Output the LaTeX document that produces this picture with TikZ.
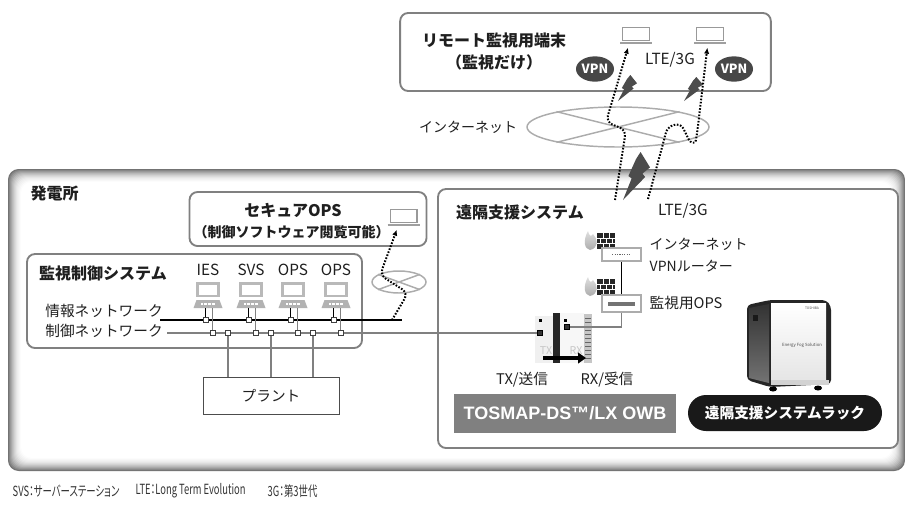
\documentclass[tikz,border=0pt]{standalone}
\usepackage{fontspec}
\setmainfont{Noto Sans CJK JP}
\newfontfamily\notefont[FakeStretch=0.67,RawFeature=+palt]{Noto Sans CJK JP}
\newfontfamily\logofont{Liberation Sans}
\usetikzlibrary{arrows.meta,shapes.geometric}

\definecolor{framegray}{gray}{0.5}
\definecolor{wiregray}{gray}{0.5}
\definecolor{inkgray}{gray}{0.12}

\tikzset{
  panel/.style={draw=framegray, line width=1.4pt, rounded corners=6pt, fill=white},
  boxtitle/.style={font=\bfseries\fontsize{12}{17}\selectfont, text=inkgray},
  caption/.style={font=\fontsize{11}{16}\selectfont, text=inkgray},
  tag/.style={font=\fontsize{11.5}{14}\selectfont, text=inkgray},
  note/.style={font=\notefont\fontsize{10.5}{12}\selectfont, text=black!80, anchor=west},
  laptop/.style={draw=gray!80, line width=1pt, fill=white, minimum width=20pt,
    minimum height=9.5pt, inner sep=0pt,
    append after command={([yshift=-1.5pt]\tikzlastnode.south west)
      edge[gray!75, line width=1.8pt, shorten <=-1.5pt, shorten >=-1.5pt]
      ([yshift=-1.5pt]\tikzlastnode.south east)}},
  pcscreen/.style={draw=gray!55, line width=2pt, fill=white, minimum width=15.5pt,
    minimum height=9.5pt, inner sep=0pt},
  jack/.style={draw=black!75, fill=white, line width=.5pt, minimum size=3.6pt, inner sep=0pt},
  infoline/.style={black, line width=1.1pt},
  ctrlline/.style={wiregray, line width=1.1pt},
  netring/.style={ellipse, draw=gray!65, line width=1.1pt, inner sep=0pt},
  wireless/.style={line width=1.5pt, dash pattern=on 1.2pt off 1.2pt, rounded corners=5pt,
    -{Latex[length=4.5pt,width=4pt]}},
  vpn/.style={ellipse, fill=black!72, text=white, font=\bfseries\fontsize{9.5}{10}\selectfont,
    minimum width=28.5pt, minimum height=19pt, inner sep=0pt},
  devbox/.style={draw=gray!65, line width=1.3pt, fill=white, minimum width=29pt, inner sep=0pt},
  bolt/.pic={\fill[black!70] (0.65,0) -- (1,0.32) -- (0.72,0.45) -- (0.82,0.52) -- (0,1)
    -- (0.32,0.55) -- (0.2,0.5) -- (0.48,0.15) -- cycle;},
  keyboard/.pic={\fill[gray!60] (-11.5,0) -- (11.5,0) -- (14.5,8) -- (-14.5,8) -- cycle;
    \draw[white, line width=1pt, dash pattern=on .5pt off .5pt] (-7,4) -- (7,4);},
  firewall/.pic={
    \shade[top color=gray!25, bottom color=gray!65] (6,22) .. controls (0,21) and (-1,12) .. (4,3)
      .. controls (5,8) and (7,9) .. (9,6) .. controls (14,11) and (15,20) .. (6,22) -- cycle;
    \fill[black!85] (13,5) rectangle (31,21);
    \draw[white, line width=.6pt] (13,10.3) -- (31,10.3) (13,15.6) -- (31,15.6)
      (19,5) -- (19,10.3) (25,5) -- (25,10.3) (16,10.3) -- (16,15.6) (22,10.3) -- (22,15.6)
      (28,10.3) -- (28,15.6) (19,15.6) -- (19,21) (25,15.6) -- (25,21);}
}

\begin{document}
\begin{tikzpicture}[x=0.75pt, y=-0.75pt]
\useasboundingbox (0,0) rectangle (905,507);

% power station frame, shaded inwards
\foreach \i/\tone in {0/55,1/47,2/40,3/34,4/28,5/23,6/18,7/14,8/10,9/7,10/5,11/3,12/1,13/0}{
  \fill[black!\tone, rounded corners=8pt] (8+\i,169+\i) rectangle (905-\i,471-\i);
}
\node[boxtitle, anchor=west] (station) at (26,193) {発電所};

% panels
\node[panel, minimum width=278pt, minimum height=58.5pt] (remote) at (585.5,52) {};
\node[panel, minimum width=177.75pt, minimum height=40.5pt] (secure) at (308,219) {};
\node[panel, minimum width=251.25pt, minimum height=70.5pt] (monitor) at (194.5,301) {};
\node[panel, minimum width=345pt, minimum height=194.25pt] (support) at (668,318.5) {};

\node[boxtitle, align=center] (remotetitle) at (494,51.5) {リモート監視用端末\\（監視だけ）};
\node[boxtitle] (securetitle) at (293,210) {セキュアOPS};
\node[font=\bfseries\fontsize{10.5}{12}\selectfont, text=inkgray] (securenote) at (291.5,232) {（制御ソフトウェア閲覧可能）};
\node[boxtitle] (monitortitle) at (103,273) {監視制御システム};
\node[boxtitle] (supporttitle) at (520,212) {遠隔支援システム};

% internet
\node[netring, minimum width=136.5pt, minimum height=30pt] (inet) at (618,127) {};
\draw[gray!65, line width=1.1pt] (inet.14) -- (inet.194) (inet.166) -- (inet.346);
\node[caption, font=\fontsize{10.5}{12}\selectfont] (inetlabel) at (468,127) {インターネット};
\node[netring, minimum width=40.5pt, minimum height=16.5pt] (snet) at (399,282) {};
\draw[gray!65, line width=1.1pt] (snet.20) -- (snet.200) (snet.160) -- (snet.340);

% networks
\coordinate (infoL) at (160,320);
\coordinate (infoR) at (402,320);
\coordinate (ctrlL) at (167,333);
\draw[infoline] (infoL) -- (infoR);
\node[caption] (infonet) at (104,311) {情報ネットワーク};
\node[caption] (ctrlnet) at (104,331) {制御ネットワーク};

\foreach \n/\x/\lab in {1/208/IES,2/251/SVS,3/293/OPS,4/336/OPS}{
  \node[tag] (tag\n) at (\x,270) {\lab};
  \node[pcscreen] (pc\n) at (\x,289.5) {};
  \pic at (\x,300) {keyboard};
  \coordinate (kb\n) at (\x,308);
  \node[jack] (ia\n) at (\x-2.5,320) {};
  \draw[infoline] (ia\n) -- (ia\n |- kb\n);
}

% TX / RX units
\fill[gray!12] (535,316) rectangle (553,363);
\fill[black!85] (553,313) rectangle (560,363);
\fill[gray!6] (560,313) rectangle (584,363);
\fill[gray!45] (584,314) rectangle (592,363);
\foreach \y in {318,322,...,358} \draw[black!60, line width=.6pt] (585,\y) -- (591,\y);
\fill[black] (538.5,319) rectangle (541.5,322);
\fill[black] (563.5,319) rectangle (566.5,322);
\node[font=\fontsize{8}{9}\selectfont, text=gray!45] (txmark) at (546,351) {TX};
\node[font=\fontsize{8}{9}\selectfont, text=gray!45] (rxmark) at (576,351) {RX};
\node[jack, draw=black, fill=black!80] (txjack) at (540,333) {};
\node[jack, draw=black, fill=black!80] (rxjack) at (567,327) {};
\draw[black, line width=3.5pt, -{Triangle[length=6pt,width=8pt]}] (543,358) -- (586,358);
\node[caption] (txlabel) at (522,380) {TX/送信};
\node[caption] (rxlabel) at (607,380) {RX/受信};

\draw[ctrlline] (ctrlL) -- (txjack);
\foreach \n/\x in {1/208,2/251,3/293,4/336}{
  \node[jack] (ca\n) at (\x+4.5,333) {};
  \draw[ctrlline] (ca\n) -- (ca\n |- kb\n);
}

% plant
\node[draw=black!70, line width=.6pt, minimum width=102pt, minimum height=27.75pt, caption] (plant) at (271,395.5) {プラント};
\foreach \n/\x in {1/228,2/271,3/313}{
  \node[jack] (pj\n) at (\x,333) {};
  \draw[ctrlline] (pj\n) -- (pj\n |- plant.north);
}

% router and monitoring OPS
\pic at (584,228) {firewall};
\pic at (584,274) {firewall};
\node[devbox, minimum height=9.75pt] (router) at (621.5,254.5) {};
\draw[black!60, line width=1.2pt, dash pattern=on .9pt off .9pt] ([xshift=-7pt]router.center) -- ([xshift=7pt]router.center);
\node[devbox, minimum height=12.75pt] (mops) at (621.5,303.5) {};
\fill[black!55] ([xshift=-10pt,yshift=-1.5pt]mops.center) rectangle ([xshift=10pt,yshift=1.5pt]mops.center);
\draw[black, line width=1.2pt] (router) -- (mops);
\draw[ctrlline] (mops.south) |- (rxjack);
\node[caption, font=\fontsize{10.5}{16.5}\selectfont, anchor=west, align=left] (routerlabel) at (645,255) {インターネット\\VPNルーター};
\node[caption, anchor=west] (mopslabel) at (645,303) {監視用OPS};
\node[tag] (lte2) at (683,211) {LTE/3G};

% rack
\fill[black!85, rounded corners=3pt] (747,305) -- (770,300) -- (826,300) -- (831,306) -- (831,384) -- (770,387) -- (747,380) -- cycle;
\shade[top color=black!80, bottom color=black!55] (749,308) -- (769,304) -- (769,383) -- (749,378) -- cycle;
\fill[black!90] (753,315) rectangle (758,321);
\shade[top color=white, bottom color=gray!20] (771,303) rectangle (826,379);
\fill[gray!35] (771,380) rectangle (829,385);
\fill[black] (773,389) ellipse (4 and 2.5);
\fill[black] (818,388) ellipse (4 and 2.5);
\node[font=\fontsize{2.5}{3}\selectfont, text=black!70] (rackbrand) at (812,308) {TOSHIBA};
\node[font=\fontsize{3.2}{4}\selectfont, text=black!70] (racktext) at (802,345) {Energy Fog Solution};

\node[fill=black!50, minimum width=166.5pt, minimum height=29.25pt, text=white, font=\logofont\bfseries\fontsize{13.5}{15}\selectfont] (tosmap) at (565,413.5) {TOSMAP-DS™/LX OWB};
\node[fill=black!90, rounded corners=13.5pt, minimum width=145.5pt, minimum height=27pt, text=white, font=\bfseries\fontsize{11}{13}\selectfont] (rackname) at (785,413) {遠隔支援システムラック};

% remote terminals
\node[laptop] (lap1) at (636,34) {};
\node[laptop] (lap2) at (710,34) {};
\node[tag] (lte1) at (670,60) {LTE/3G};
\node[vpn] (vpn1) at (595,69) {VPN};
\node[vpn] (vpn2) at (734,69) {VPN};
\node[laptop] (seclap) at (403.5,216) {};
\pic[xscale=19, yscale=26] at (618,75) {bolt};
\pic[xscale=19, yscale=24] at (684,77) {bolt};
\pic[xscale=27, yscale=48] at (623,152) {bolt};

% wireless links
\coordinate (up1) at (615,200);
\coordinate (up2) at (648,199);
\coordinate (secup) at (392,320);
\draw[wireless] (up1) -- (626,130) -- (606,122) -- ([xshift=-6pt,yshift=-5pt]lap1.south);
\draw[wireless] (up2) -- (664,140) .. controls (668,124) and (680,122) .. (686,134)
  .. controls (690,142) and (695,145) .. (697,134) -- ([xshift=-2pt,yshift=-5pt]lap2.south);
\draw[wireless] (secup) -- (408,293) -- (380,275) -- ([xshift=-5pt,yshift=-5pt]seclap.south);

% footnote
\node[note] (note1) at (8,491) {SVS：サーバーステーション};
\node[note] (note2) at (131,491) {LTE：Long Term Evolution};
\node[note] (note3) at (263,491) {3G：第3世代};
\end{tikzpicture}
\end{document}
